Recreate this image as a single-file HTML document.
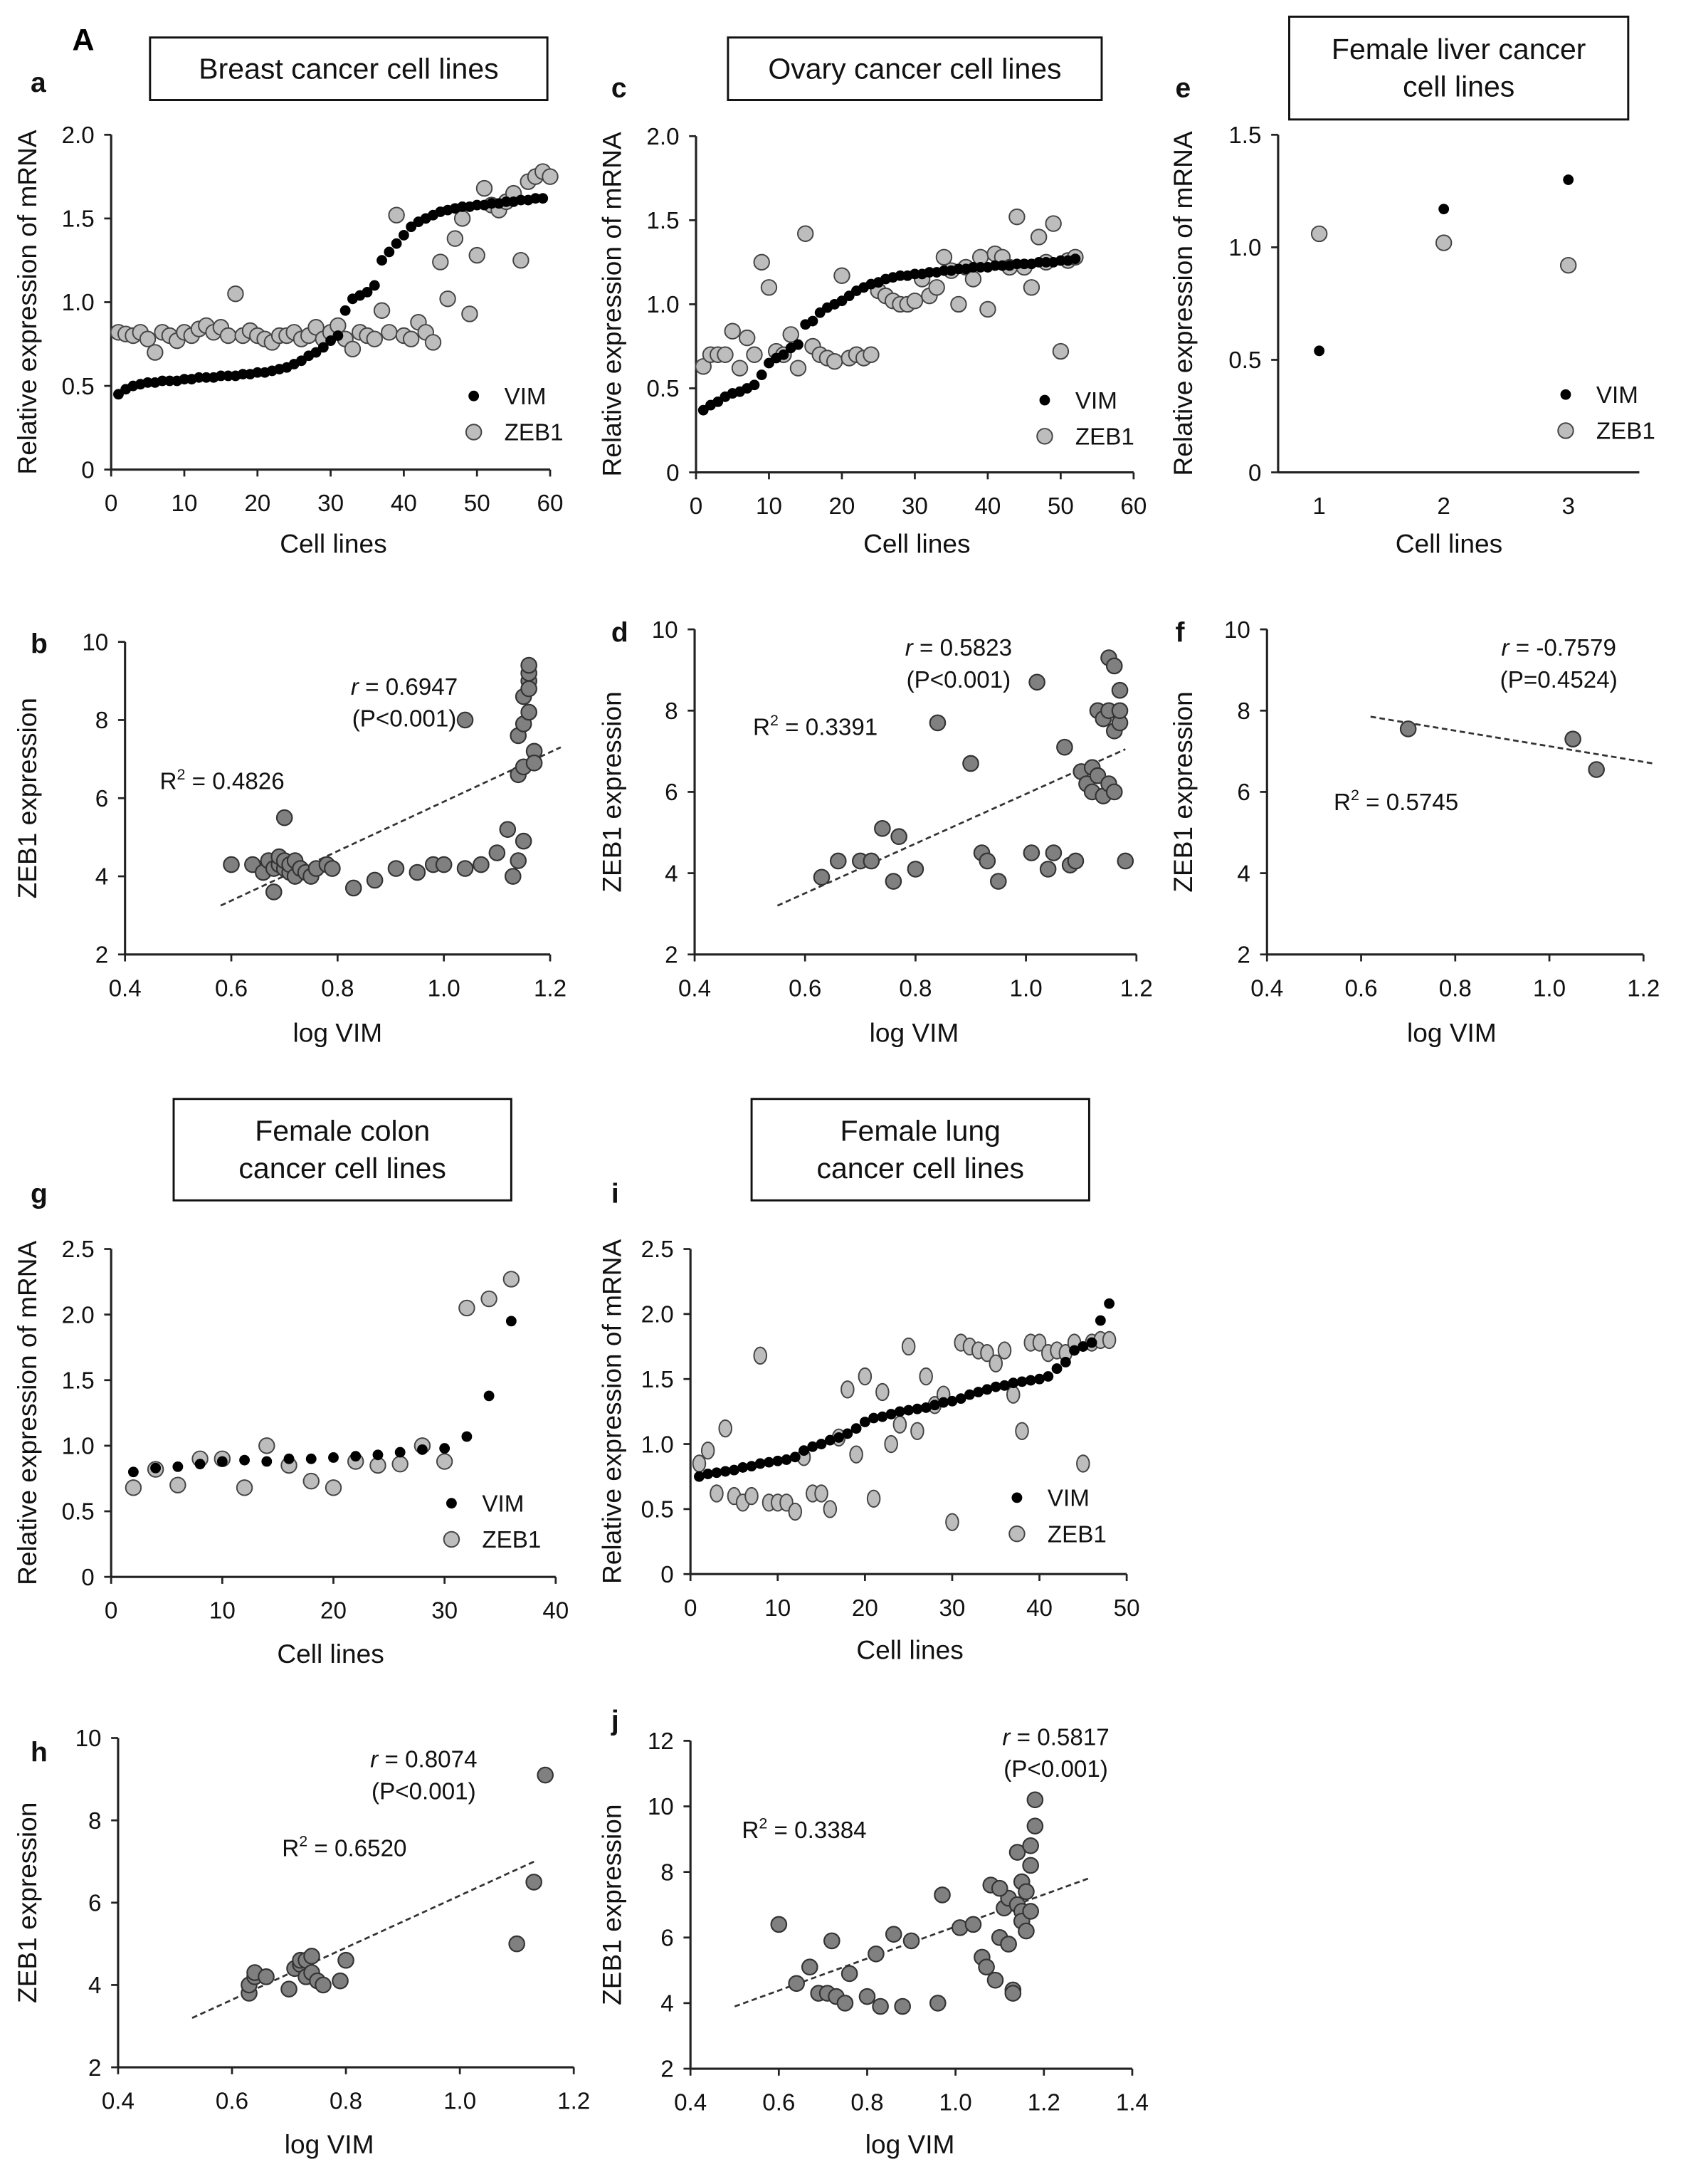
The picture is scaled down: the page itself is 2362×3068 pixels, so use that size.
<!DOCTYPE html>
<html><head><meta charset="utf-8"><style>
html,body{margin:0;padding:0;background:#fff;}
svg{display:block;font-family:"Liberation Sans",Arial,sans-serif;}
</style></head><body>
<svg id="fig" width="2362" height="3068" viewBox="0 0 1210 1572" preserveAspectRatio="none" xmlns="http://www.w3.org/2000/svg">
<text x="52" y="36" font-size="22" font-weight="bold">A</text>
</svg>
<script>
// ---- Data ----
const breastVIM=[0.45,0.48,0.50,0.51,0.52,0.52,0.53,0.53,0.53,0.54,0.54,0.55,0.55,0.55,0.56,0.56,0.56,0.57,0.57,0.58,0.58,0.59,0.60,0.61,0.63,0.65,0.68,0.70,0.73,0.77,0.80,0.95,1.02,1.04,1.06,1.10,1.25,1.30,1.35,1.40,1.45,1.48,1.50,1.52,1.54,1.55,1.56,1.57,1.57,1.58,1.58,1.59,1.59,1.60,1.60,1.61,1.61,1.62,1.62];
const breastZEB1=[0.82,0.81,0.80,0.82,0.78,0.70,0.82,0.80,0.77,0.82,0.80,0.84,0.86,0.82,0.85,0.80,1.05,0.80,0.83,0.80,0.78,0.76,0.80,0.80,0.82,0.78,0.80,0.85,0.78,0.82,0.86,0.78,0.72,0.82,0.80,0.78,0.95,0.82,1.52,0.80,0.78,0.88,0.82,0.76,1.24,1.02,1.38,1.50,0.93,1.28,1.68,1.58,1.55,1.60,1.65,1.25,1.72,1.75,1.78,1.75];
const ovaryVIM=[0.37,0.40,0.42,0.45,0.47,0.48,0.50,0.52,0.58,0.65,0.68,0.70,0.74,0.76,0.88,0.90,0.95,0.98,1.00,1.02,1.05,1.08,1.10,1.12,1.13,1.15,1.16,1.17,1.17,1.18,1.18,1.19,1.19,1.20,1.20,1.21,1.21,1.22,1.22,1.22,1.23,1.23,1.23,1.24,1.24,1.24,1.25,1.25,1.25,1.26,1.26,1.27];
const ovaryZEB1=[0.63,0.70,0.70,0.70,0.84,0.62,0.80,0.70,1.25,1.10,0.72,0.70,0.82,0.62,1.42,0.75,0.70,0.68,0.66,1.17,0.68,0.70,0.68,0.70,1.08,1.05,1.02,1.00,1.00,1.02,1.15,1.05,1.10,1.28,1.20,1.00,1.22,1.15,1.28,0.97,1.30,1.28,1.22,1.52,1.22,1.10,1.40,1.25,1.48,0.72,1.26,1.28];
const liverVIM=[0.54,1.17,1.30];
const liverZEB1=[1.06,1.02,0.92];
const colonX=[2,4,6,8,10,12,14,16,18,20,22,24,26,28,30,32,34,36];
const colonVIM=[0.80,0.83,0.84,0.86,0.88,0.89,0.88,0.90,0.90,0.91,0.92,0.93,0.95,0.97,0.98,1.07,1.38,1.95];
const colonZEB1=[0.68,0.82,0.70,0.90,0.90,0.68,1.00,0.85,0.73,0.68,0.88,0.85,0.86,1.00,0.88,2.05,2.12,2.27];
const lungVIM=[0.75,0.77,0.78,0.79,0.80,0.82,0.83,0.85,0.86,0.87,0.88,0.90,0.95,0.98,1.00,1.03,1.05,1.08,1.12,1.17,1.20,1.21,1.23,1.25,1.26,1.27,1.28,1.30,1.32,1.33,1.35,1.38,1.40,1.42,1.44,1.45,1.47,1.48,1.49,1.50,1.52,1.58,1.63,1.72,1.75,1.78,1.95,2.08];
const lungZEB1=[0.85,0.95,0.62,1.12,0.60,0.55,0.60,1.68,0.55,0.55,0.55,0.48,0.90,0.62,0.62,0.50,1.05,1.42,0.92,1.52,0.58,1.40,1.00,1.15,1.75,1.10,1.52,1.30,1.38,0.40,1.78,1.75,1.72,1.70,1.62,1.72,1.38,1.10,1.78,1.78,1.70,1.72,1.70,1.78,0.85,1.78,1.80,1.80];
const bX=[0.60,0.64,0.66,0.67,0.68,0.68,0.69,0.69,0.70,0.70,0.70,0.71,0.71,0.72,0.72,0.73,0.74,0.75,0.76,0.78,0.79,0.83,0.87,0.91,0.95,0.98,1.00,1.04,1.04,1.07,1.10,1.12,1.13,1.14,1.14,1.15,1.15,1.15,1.16,1.16,1.16,1.16,1.17,1.17,1.14,1.15,1.16];
const bY=[4.3,4.3,4.1,4.4,4.2,3.6,4.3,4.5,4.2,4.4,5.5,4.1,4.3,4.4,4.0,4.2,4.1,4.0,4.2,4.3,4.2,3.7,3.9,4.2,4.1,4.3,4.3,8.0,4.2,4.3,4.6,5.2,4.0,6.6,7.6,7.9,8.6,6.8,8.2,9.0,9.2,9.4,7.2,6.9,4.4,4.9,8.8];
const bFit=[6.33,-0.42,0.58,1.22];
const dX=[0.63,0.66,0.70,0.72,0.74,0.76,0.77,0.80,0.84,0.90,0.92,0.93,0.95,1.01,1.02,1.04,1.05,1.07,1.08,1.09,1.10,1.11,1.12,1.12,1.13,1.13,1.14,1.14,1.15,1.15,1.15,1.16,1.16,1.16,1.17,1.17,1.17,1.18];
const dY=[3.9,4.3,4.3,4.3,5.1,3.8,4.9,4.1,7.7,6.7,4.5,4.3,3.8,4.5,8.7,4.1,4.5,7.1,4.2,4.3,6.5,6.2,6.6,6.0,6.4,8.0,5.9,7.8,6.2,8.0,9.3,6.0,7.5,9.1,8.5,7.7,8.0,4.3];
const dFit=[6.11,-0.16,0.55,1.18];
const fX=[0.70,1.05,1.10];
const fY=[7.55,7.3,6.55];
const fFit=[-1.917,9.04,0.62,1.22];
const hX=[0.63,0.63,0.64,0.64,0.66,0.70,0.71,0.72,0.72,0.73,0.73,0.74,0.74,0.75,0.76,0.79,0.80,1.10,1.13,1.15];
const hY=[3.8,4.0,4.2,4.3,4.2,3.9,4.4,4.5,4.6,4.6,4.2,4.7,4.3,4.1,4.0,4.1,4.6,5.0,6.5,9.1];
const hFit=[6.33,-0.157,0.53,1.13];
const jX=[0.60,0.64,0.67,0.69,0.71,0.72,0.73,0.75,0.76,0.80,0.82,0.83,0.86,0.88,0.90,0.96,0.97,1.01,1.04,1.06,1.07,1.08,1.09,1.10,1.11,1.12,1.12,1.13,1.14,1.14,1.15,1.15,1.15,1.16,1.16,1.17,1.17,1.17,1.18,1.18,1.10,1.13];
const jY=[6.4,4.6,5.1,4.3,4.3,5.9,4.2,4.0,4.9,4.2,5.5,3.9,6.1,3.9,5.9,4.0,7.3,6.3,6.4,5.4,5.1,7.6,4.7,6.0,6.9,5.8,7.2,4.4,8.6,7.0,7.7,6.8,6.5,7.4,6.2,6.8,8.2,8.8,9.4,10.2,7.5,4.3];
const jFit=[4.875,1.46,0.5,1.3];
const ticksA=[0,10,20,30,40,50,60];
const ticksY2=[0,0.5,1.0,1.5,2.0];
const ticksY15=[0,0.5,1.0,1.5];
const ticksY25=[0,0.5,1.0,1.5,2.0,2.5];
const ticksLog=[0.4,0.6,0.8,1.0,1.2];
const ticksLog14=[0.4,0.6,0.8,1.0,1.2,1.4];
const ticksZ=[2,4,6,8,10];
const ticksZ12=[2,4,6,8,10,12];

const NS="http://www.w3.org/2000/svg";
const svg=document.getElementById('fig');
function el(tag,attrs,parent){const e=document.createElementNS(NS,tag);for(const k in attrs)e.setAttribute(k,attrs[k]);(parent||svg).appendChild(e);return e;}
function txt(x,y,s,size,anchor,parent,extra){const t=el('text',Object.assign({x:x,y:y,'font-size':size,'text-anchor':anchor||'start',fill:'#111'},extra||{}),parent);t.textContent=s;return t;}
function fmt(v,dec){if(v===0)return '0';return dec==null?String(v):v.toFixed(dec);}

function axes(p,name){
  const g=el('g',{});
  
  
  const sx=v=>p.x0+(v-p.xmin)/(p.xmax-p.xmin)*(p.x1-p.x0);
  const sy=v=>p.y0-(v-p.ymin)/(p.ymax-p.ymin)*(p.y0-p.y1);
  el('line',{x1:p.x0,y1:p.y1,x2:p.x0,y2:p.y0,stroke:'#222','stroke-width':1.6},g);
  el('line',{x1:p.x0,y1:p.y0,x2:p.x1,y2:p.y0,stroke:'#222','stroke-width':1.6},g);
  p.yt.forEach(v=>{const y=sy(v);el('line',{x1:p.x0-5,y1:y,x2:p.x0,y2:y,stroke:'#222','stroke-width':1.4},g);
    const t=txt(p.x0-12,y+6,fmt(v,p.ydec),17,'end',g);});
  if(p.xt){p.xt.forEach(v=>{const x=sx(v);el('line',{x1:x,y1:p.y0,x2:x,y2:p.y0+5,stroke:'#222','stroke-width':1.4},g);
    const t=txt(x,p.y0+30,p.xdec==null?String(v):v.toFixed(p.xdec),17,'middle',g);});}
  const yt=txt(0,0,p.ytitle,19,'middle',g,{transform:`translate(${p.ytx},${(p.y0+p.y1)/2}) rotate(-90)`});
  
  const xt=txt(p.xtx,p.xty,p.xtitle,19,'middle',g);
  
  return {sx,sy,g};
}
function vimDot(x,y,g){const c=el('circle',{cx:x,cy:y,r:3.8,fill:'#000'},g);}
function zebDot(x,y,g,rx,ry){const c=el('ellipse',{cx:x,cy:y,rx:rx||5.5,ry:ry||5.5,fill:'#bdbdbd',stroke:'#444','stroke-width':1},g);}
function scDot(x,y,g){const c=el('circle',{cx:x,cy:y,r:5.5,fill:'#808080',stroke:'#333','stroke-width':1.1},g);}
function legend(x,y,g){vimDot(x,y,g);const a=txt(x+22,y+6,'VIM',17,'start',g);
  zebDot(x,y+26,g);const b=txt(x+22,y+32,'ZEB1',17,'start',g);}
function titleBox(x,y,w,h,lines,name){const g=el('g',{});
  el('rect',{x:x,y:y,width:w,height:h,fill:'#fff',stroke:'#111','stroke-width':1.5},g);
  const n=lines.length;lines.forEach((l,i)=>txt(x+w/2,y+h/2+7+(i-(n-1)/2)*27,l,21,'middle',g));}
function panelLetter(x,y,s){const t=txt(x,y,s,20,'start',null,{'font-weight':'bold'});}
function fitLine(A,fit,g){const x1=fit[2],x2=fit[3];const l=el('line',{x1:A.sx(x1),y1:A.sy(fit[0]*x1+fit[1]),x2:A.sx(x2),y2:A.sy(fit[0]*x2+fit[1]),stroke:'#333','stroke-width':1.4,'stroke-dasharray':'4,2.5'},g);}
function rText(x,y,r,p,g){const t=el('text',{x:x,y:y,'font-size':17,'text-anchor':'middle',fill:'#111'},g);
  const i=el('tspan',{'font-style':'italic'},t);i.textContent='r';const s=el('tspan',{},t);s.textContent=' = '+r;
  
  const q=txt(x,y+23,p,17,'middle',g);}
function r2Text(x,y,v,g){const t=el('text',{x:x,y:y,'font-size':17,fill:'#111'},g);const a=el('tspan',{},t);a.textContent='R';
  const b=el('tspan',{dy:-7,'font-size':11},t);b.textContent='2';const c=el('tspan',{dy:7},t);c.textContent=' = '+v;
  }

// ---- Panel a ----
titleBox(108,27,286,45,['Breast cancer cell lines'],'title-breast');panelLetter(22,66,'a');
let A=axes({x0:80,x1:396,xmin:0,xmax:60,y0:338,y1:97,ymin:0,ymax:2,yt:ticksY2,ydec:1,xt:ticksA,ytitle:'Relative expression of mRNA',ytx:26,xtitle:'Cell lines',xtx:240,xty:398},'panel-a');
breastZEB1.forEach((v,i)=>zebDot(A.sx(i+1),A.sy(v),A.g));
breastVIM.forEach((v,i)=>vimDot(A.sx(i+1),A.sy(v),A.g));
legend(341,285,A.g);
// ---- Panel c ----
titleBox(524,27,269,45,['Ovary cancer cell lines'],'title-ovary');panelLetter(440,70,'c');
A=axes({x0:501,x1:816,xmin:0,xmax:60,y0:340,y1:98,ymin:0,ymax:2,yt:ticksY2,ydec:1,xt:ticksA,ytitle:'Relative expression of mRNA',ytx:447,xtitle:'Cell lines',xtx:660,xty:398},'panel-c');
ovaryZEB1.forEach((v,i)=>zebDot(A.sx(i+1),A.sy(v),A.g));
ovaryVIM.forEach((v,i)=>vimDot(A.sx(i+1),A.sy(v),A.g));
legend(752,288,A.g);
// ---- Panel e ----
titleBox(928,12,244,74,['Female liver cancer','cell lines'],'title-liver');panelLetter(846,70,'e');
A=axes({x0:920,x1:1180,xmin:0.67,xmax:3.57,y0:340,y1:97,ymin:0,ymax:1.5,yt:ticksY15,ydec:1,xt:null,ytitle:'Relative expression of mRNA',ytx:858,xtitle:'Cell lines',xtx:1043,xty:398},'panel-e');
[1,2,3].forEach(v=>{const t=txt(A.sx(v),370,String(v),17,'middle',A.g);});
liverZEB1.forEach((v,i)=>zebDot(A.sx(i+1),A.sy(v),A.g));
liverVIM.forEach((v,i)=>vimDot(A.sx(i+1),A.sy(v),A.g));
legend(1127,284,A.g);
// ---- Panel b ----
panelLetter(22,470,'b');
A=axes({x0:90,x1:396,xmin:0.4,xmax:1.2,y0:687,y1:462,ymin:2,ymax:10,yt:ticksZ,xt:ticksLog,xdec:1,ytitle:'ZEB1 expression',ytx:26,xtitle:'log VIM',xtx:243,xty:750},'panel-b');
fitLine(A,bFit,A.g);bX.forEach((x,i)=>scDot(A.sx(x),A.sy(bY[i]),A.g));
rText(291,500,'0.6947','(P<0.001)',A.g);r2Text(115,568,'0.4826',A.g);
// ---- Panel d ----
panelLetter(440,462,'d');
A=axes({x0:500,x1:818,xmin:0.4,xmax:1.2,y0:687,y1:453,ymin:2,ymax:10,yt:ticksZ,xt:ticksLog,xdec:1,ytitle:'ZEB1 expression',ytx:447,xtitle:'log VIM',xtx:658,xty:750},'panel-d');
fitLine(A,dFit,A.g);dX.forEach((x,i)=>scDot(A.sx(x),A.sy(dY[i]),A.g));
rText(690,472,'0.5823','(P<0.001)',A.g);r2Text(542,529,'0.3391',A.g);
// ---- Panel f ----
panelLetter(846,462,'f');
A=axes({x0:912,x1:1183,xmin:0.4,xmax:1.2,y0:687,y1:453,ymin:2,ymax:10,yt:ticksZ,xt:ticksLog,xdec:1,ytitle:'ZEB1 expression',ytx:858,xtitle:'log VIM',xtx:1045,xty:750},'panel-f');
fitLine(A,fFit,A.g);fX.forEach((x,i)=>scDot(A.sx(x),A.sy(fY[i]),A.g));
rText(1122,472,'-0.7579','(P=0.4524)',A.g);r2Text(960,583,'0.5745',A.g);
// ---- Panel g ----
titleBox(125,791,243,73,['Female colon','cancer cell lines'],'title-colon');panelLetter(22,866,'g');
A=axes({x0:80,x1:400,xmin:0,xmax:40,y0:1135,y1:899,ymin:0,ymax:2.5,yt:ticksY25,ydec:1,xt:[0,10,20,30,40],ytitle:'Relative expression of mRNA',ytx:26,xtitle:'Cell lines',xtx:238,xty:1197},'panel-g');
colonZEB1.forEach((v,i)=>zebDot(A.sx(colonX[i]),A.sy(v),A.g));
colonVIM.forEach((v,i)=>vimDot(A.sx(colonX[i]),A.sy(v),A.g));
legend(325,1082,A.g);
// ---- Panel i ----
titleBox(541,791,243,73,['Female lung','cancer cell lines'],'title-lung');panelLetter(440,866,'i');
A=axes({x0:497,x1:811,xmin:0,xmax:50,y0:1133,y1:899,ymin:0,ymax:2.5,yt:ticksY25,ydec:1,xt:[0,10,20,30,40,50],ytitle:'Relative expression of mRNA',ytx:447,xtitle:'Cell lines',xtx:655,xty:1194},'panel-i');
lungZEB1.forEach((v,i)=>zebDot(A.sx(i+1),A.sy(v),A.g,4.5,6));
lungVIM.forEach((v,i)=>vimDot(A.sx(i+1),A.sy(v),A.g));
legend(732,1078,A.g);
// ---- Panel h ----
panelLetter(22,1268,'h');
A=axes({x0:85,x1:413,xmin:0.4,xmax:1.2,y0:1488,y1:1251,ymin:2,ymax:10,yt:ticksZ,xt:ticksLog,xdec:1,ytitle:'ZEB1 expression',ytx:26,xtitle:'log VIM',xtx:237,xty:1550},'panel-h');
fitLine(A,hFit,A.g);hX.forEach((x,i)=>scDot(A.sx(x),A.sy(hY[i]),A.g));
rText(305,1272,'0.8074','(P<0.001)',A.g);r2Text(203,1336,'0.6520',A.g);
// ---- Panel j ----
panelLetter(440,1245,'j');
A=axes({x0:497,x1:815,xmin:0.4,xmax:1.4,y0:1489,y1:1253,ymin:2,ymax:12,yt:ticksZ12,xt:ticksLog14,xdec:1,ytitle:'ZEB1 expression',ytx:447,xtitle:'log VIM',xtx:655,xty:1550},'panel-j');
fitLine(A,jFit,A.g);jX.forEach((x,i)=>scDot(A.sx(x),A.sy(jY[i]),A.g));
rText(760,1256,'0.5817','(P<0.001)',A.g);r2Text(534,1323,'0.3384',A.g);
</script>
</body></html>
